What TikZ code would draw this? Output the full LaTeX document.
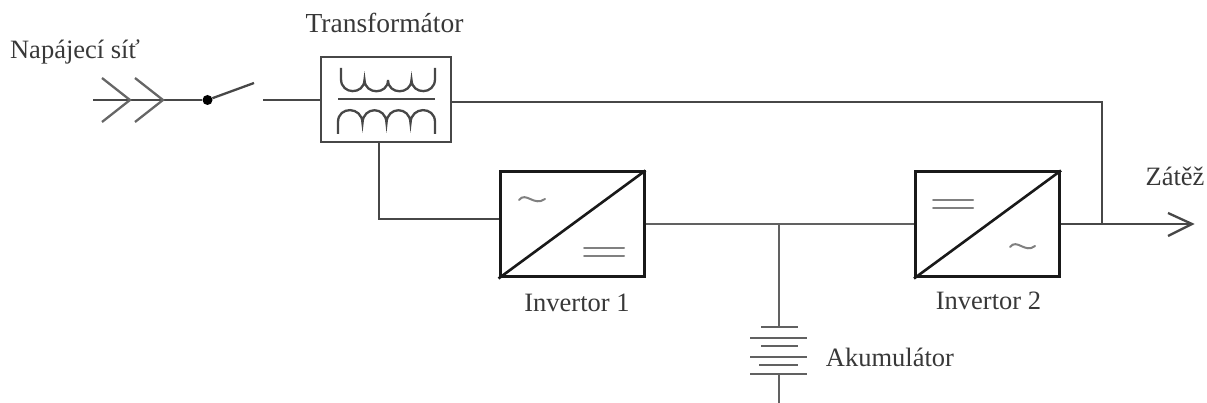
\documentclass[tikz,border=0pt]{standalone}
\usepackage{fontspec}
\setmainfont{Liberation Serif}
\begin{document}
\begin{tikzpicture}[x=1pt,y=-1pt,
  wire/.style={draw=black!72,line width=2.3pt},
  thin wire/.style={draw=black!62,line width=2.2pt},
  conv/.style={draw=black!90,line width=3pt,rectangle,inner sep=0pt,minimum width=144pt,minimum height=105pt,anchor=center},
  xfmr/.style={draw=black!72,line width=2.3pt,rectangle,inner sep=0pt,minimum width=130pt,minimum height=85pt,anchor=center},
  lab/.style={font=\fontsize{26.5}{29}\selectfont,text=black!78,inner sep=0pt,anchor=base},
  dotn/.style={circle,fill=black,inner sep=0pt,minimum size=10pt},
  plate/.style={draw=black!62,line width=2.1pt},
  sym/.style={draw=black!50,line width=2pt,line cap=round}]
\useasboundingbox (0,0) rectangle (1207,403);
% nodes
\node[xfmr] (T) at (386,99.5) {};
\node[conv] (I1) at (572,224.5) {};
\node[conv] (I2) at (987.5,224.5) {};
\node[dotn] (D) at (207.5,100) {};
\coordinate (S0) at (93,100);
\coordinate (SW) at (254,83);
\coordinate (S1) at (263,100);
\coordinate (BUS) at (779,224);
\coordinate (TAP) at (1102,224);
\coordinate (OUT) at (1192,224);
\coordinate (BT) at (779,327);
\coordinate (BB) at (779,374);
\coordinate (BE) at (779,403);
% mains
\draw[wire] (S0) -- (D);
\draw[wire,draw=black!60] (102,78) -- (130,100) -- (102,122);
\draw[wire,draw=black!60] (135,78) -- (163,100) -- (135,122);
\draw[wire] (D) -- (SW);
\draw[wire] (S1) -- (T.west |- S1);
% transformer symbol
\draw[wire] (341,68) -- (341,79)
  .. controls (341,95) and (364,95) .. (364.5,80)
  .. controls (365,95) and (388,95) .. (388,80)
  .. controls (388,95) and (411,95) .. (411.5,80)
  .. controls (412,95) and (435,95) .. (435,79) -- (435,68);
\draw[wire] (338,99) -- (435,99);
\draw[wire] (338,134) -- (338,122)
  .. controls (338,106) and (362,106) .. (362.5,123)
  .. controls (363,106) and (386,106) .. (386.5,123)
  .. controls (387,106) and (410,106) .. (410.5,123)
  .. controls (411,106) and (435,106) .. (435,122) -- (435,134);
% connections
\draw[wire] (T.east |- 0,102) -- (1102,102) -- (TAP);
\draw[wire] (379,142) |- (I1.west |- 0,219);
\draw[thin wire] (I1.east |- BUS) -- (BUS) -- (I2.west |- BUS);
\draw[thin wire] (BUS) -- (BT);
\draw[wire] (I2.east |- TAP) -- (OUT);
\draw[wire] (1168,213) -- (OUT) -- (1168,236);
% converters
\draw[draw=black!90,line width=2.6pt] (I1.south west) -- (I1.north east);
\draw[draw=black!90,line width=2.6pt] (I2.south west) -- (I2.north east);
\draw[sym] (519,200) .. controls (526,191) and (534,207) .. (545,199);
\draw[sym] (584,248) -- (624,248);
\draw[sym] (584,256) -- (624,256);
\draw[sym] (933,200) -- (973,200);
\draw[sym] (933,208) -- (973,208);
\draw[sym] (1010,247) .. controls (1017,238) and (1025,254) .. (1035,246);
% battery
\draw[plate] (761,327) -- (798,327);
\draw[plate] (750,338) -- (807,338);
\draw[plate] (761,346) -- (798,346);
\draw[plate] (750,357) -- (807,357);
\draw[plate] (759,365) -- (798,365);
\draw[plate] (750,374) -- (807,374);
\draw[thin wire] (BB) -- (BE);
% labels
\node[lab] (l1) at (75,59) {Napájecí síť};
\node[lab,font=\fontsize{27.5}{30}\selectfont] (l2) at (384.5,33) {Transformátor};
\node[lab] (l3) at (577,312) {Invertor 1};
\node[lab] (l4) at (988.5,309) {Invertor 2};
\node[lab] (l5) at (890,366) {Akumulátor};
\node[lab] (l6) at (1175,186) {Zátěž};
\end{tikzpicture}
\end{document}
